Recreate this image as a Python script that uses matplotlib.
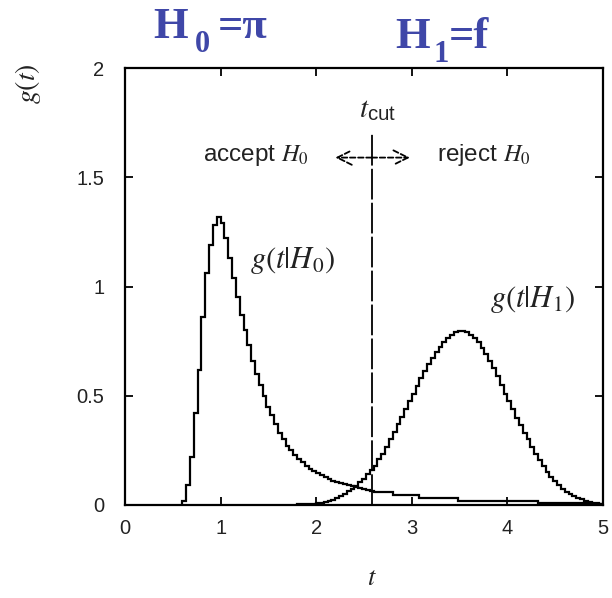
import numpy as np
import matplotlib
matplotlib.use('Agg')
import matplotlib.pyplot as plt

plt.rcParams['font.family'] = ['Liberation Sans', 'DejaVu Sans']
plt.rcParams['mathtext.fontset'] = 'stix'
# used for t_cut: italic serif t, upright sans subscript
plt.rcParams['mathtext.rm'] = 'Liberation Sans'
plt.rcParams['mathtext.it'] = 'STIXGeneral:italic'

# histogram bins of the test statistic t
bin_width = 0.04

# g(t|H0): bins starting at t = 0.60
h0_start = 0.60
h0_values = [
    0.02, 0.09, 0.22, 0.42, 0.62, 0.86, 1.06, 1.19, 1.28, 1.32,
    1.29, 1.22, 1.13, 1.04, 0.95, 0.87, 0.80, 0.73, 0.66, 0.60,
    0.55, 0.50, 0.45, 0.41, 0.37, 0.33, 0.30, 0.27, 0.25, 0.23,
    0.21, 0.195, 0.18, 0.167, 0.155, 0.145, 0.136, 0.127, 0.119, 0.112,
    0.106, 0.10, 0.095, 0.09, 0.085, 0.081, 0.077, 0.073, 0.069, 0.065,
    0.06, 0.06, 0.06, 0.06, 0.06,
    0.046, 0.046, 0.046, 0.046, 0.046, 0.046, 0.046,
    0.032, 0.032, 0.032, 0.032, 0.032, 0.032, 0.032, 0.032, 0.032, 0.032,
    0.02, 0.02, 0.02, 0.02, 0.02, 0.02, 0.02, 0.02, 0.02, 0.02, 0.02,
    0.02, 0.02, 0.02, 0.02, 0.02, 0.02, 0.02, 0.02, 0.02, 0.02,
    0.01, 0.01, 0.01, 0.01, 0.01, 0.01, 0.01,
    0.01, 0.01, 0.01, 0.01, 0.01, 0.01, 0.01,
    0.005, 0.005, 0.005,
]

# g(t|H1): bins starting at t = 1.80
h1_start = 1.80
h1_values = [
    0.003, 0.003, 0.004, 0.004, 0.005, 0.007, 0.009, 0.013, 0.018, 0.023,
    0.031, 0.040, 0.051, 0.063, 0.075, 0.089, 0.103, 0.12, 0.14, 0.16,
    0.18, 0.21, 0.235, 0.265, 0.30, 0.335, 0.37, 0.405, 0.44, 0.475,
    0.51, 0.545, 0.58, 0.615, 0.645, 0.675, 0.70, 0.725, 0.745, 0.765,
    0.78, 0.79, 0.795, 0.795, 0.79, 0.78, 0.765, 0.745, 0.72, 0.69,
    0.66, 0.625, 0.59, 0.55, 0.51, 0.475, 0.44, 0.40, 0.365, 0.33,
    0.30, 0.265, 0.235, 0.205, 0.18, 0.152, 0.13, 0.108, 0.09, 0.074,
    0.06, 0.049, 0.04, 0.032, 0.026, 0.02, 0.015, 0.011, 0.008, 0.006,
]

t_cut = 2.58
cut_top = 1.70

x_ticks = [0, 1, 2, 3, 4, 5]
y_ticks = [0, 0.5, 1, 1.5, 2]
y_tick_labels = ['0', '0.5', '1', '1.5', '2']

W, H = 612, 598
fig = plt.figure(figsize=(W / 100, H / 100), dpi=100)
ax = fig.add_axes([125 / W, 93 / H, 478 / W, 437 / H])


def edges(start, values):
    return start + bin_width * np.arange(len(values) + 1)


ax.stairs(h0_values, edges(h0_start, h0_values), color='black', lw=1.6)
ax.stairs(h1_values, edges(h1_start, h1_values), color='black', lw=1.6)

# cut value with the accept / reject arrows
ax.vlines(t_cut, 0, cut_top, color='black', lw=1.3, linestyles=[(0, (17, 1.8))])
arrow = dict(arrowstyle='->', lw=1.3, linestyle=(0, (3, 1.5)), color='black',
             mutation_scale=26, shrinkA=0, shrinkB=0)
ax.annotate('', xy=(2.2, 1.59), xytext=(t_cut, 1.59), arrowprops=arrow)
ax.annotate('', xy=(2.98, 1.59), xytext=(t_cut, 1.59), arrowprops=arrow)

txt = '#222222'
ax.text(t_cut + 0.06, 1.81, r'$t_{\mathrm{cut}}$', fontsize=21, ha='center', va='center',
        color=txt, math_fontfamily='custom')
ax.text(1.37, 1.60, r'accept $H_0$', fontsize=17.5, ha='center', va='center', color=txt)
ax.text(3.75, 1.60, r'reject $H_0$', fontsize=17.5, ha='center', va='center', color=txt)
ax.text(1.75, 1.12, r'$g(t|H_0)$', fontsize=22, ha='center', va='center', color=txt)
ax.text(4.26, 0.94, r'$g(t|H_1)$', fontsize=22, ha='center', va='center', color=txt)

ax.set_xlim(0, 5)
ax.set_ylim(0, 2)
ax.set_xticks(x_ticks)
ax.set_yticks(y_ticks)
ax.set_yticklabels(y_tick_labels)
ax.tick_params(direction='in', length=6, width=1.3, top=True, right=True,
               labelsize=14.5, labelcolor=txt)
ax.tick_params(axis='y', pad=15)
ax.tick_params(axis='x', pad=10)
for s in ax.spines.values():
    s.set_linewidth(1.6)

fig.text(372 / W, 1 - 578 / H, r'$t$', fontsize=19, ha='center', va='center', color=txt)
fig.text(28 / W, 1 - 84 / H, r'$g(t)$', fontsize=20, rotation=90, ha='center', va='center', color=txt)

# hypothesis headings
blue = '#3f47a8'
serif = dict(family='Liberation Serif', weight='bold', color=blue, va='baseline', ha='left')
fig.text(153 / W, 1 - 38 / H, 'H', fontsize=32, **serif)
fig.text(195 / W, 1 - 52 / H, '0', fontsize=22, **serif)
fig.text(218 / W, 1 - 38 / H, '=π', fontsize=32, **serif)
fig.text(395 / W, 1 - 48 / H, 'H', fontsize=32, **serif)
fig.text(433 / W, 1 - 62 / H, '1', fontsize=22, **serif)
fig.text(449 / W, 1 - 48 / H, '=f', fontsize=32, **serif)

fig.savefig('out.png', dpi=100, facecolor='white')
